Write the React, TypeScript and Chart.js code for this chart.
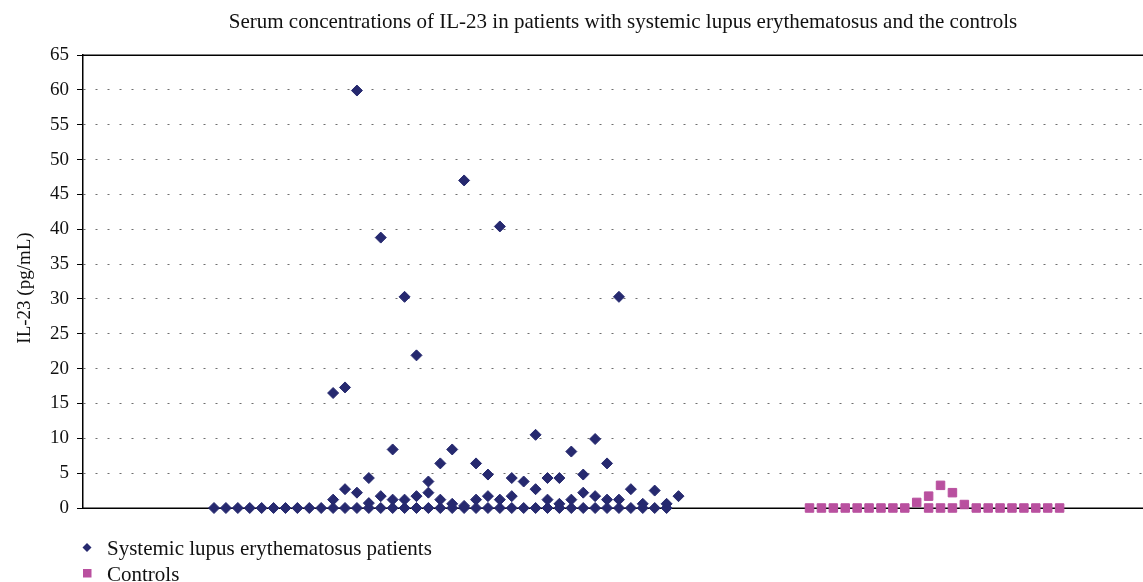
import React, { useEffect, useRef } from 'react';
import { Chart, registerables } from 'chart.js';

Chart.register(...registerables);

const TITLE = 'Serum concentrations of IL-23 in patients with systemic lupus erythematosus and the controls';
const Y_TITLE = 'IL-23 (pg/mL)';
const SERIES_NAMES = ['Systemic lupus erythematosus patients', 'Controls'];

// SLE patients: sample position (x) and IL-23 value (y)
const sleX = [
  11, 12, 13, 14, 15, 16, 17, 18, 19, 20,
  21, 21, 21,
  22, 22, 22,
  23, 23, 23,
  24, 24, 24,
  25, 25, 25,
  26, 26, 26,
  27, 27, 27,
  28, 28, 28,
  29, 29, 29,
  30, 30, 30,
  31, 31, 31,
  32, 32, 32,
  33, 33, 33,
  34, 34, 34,
  35, 35, 35,
  36, 36, 36,
  37, 37,
  38, 38, 38,
  39, 39, 39,
  40, 40, 40,
  41, 41, 41,
  42, 42, 42,
  43, 43, 43,
  44, 44, 44,
  45, 45, 45,
  46, 46,
  47, 47,
  48, 48,
  49, 49,
  50,
];
const sleY = [
  0, 0, 0, 0, 0, 0, 0, 0, 0, 0,
  0, 1.2, 16.5,
  0, 2.7, 17.3,
  0, 2.2, 59.9,
  0, 0.7, 4.3,
  0, 1.7, 38.8,
  0, 1.2, 8.4,
  0, 1.2, 30.3,
  0, 1.7, 21.9,
  0, 2.2, 3.8,
  0, 1.2, 6.4,
  0, 0.6, 8.4,
  0, 0.3, 47.0,
  0, 1.2, 6.4,
  0, 1.7, 4.8,
  0, 1.2, 40.4,
  0, 1.7, 4.3,
  0, 3.8,
  0, 2.7, 10.5,
  0, 1.2, 4.3,
  0, 0.6, 4.3,
  0, 1.2, 8.1,
  0, 2.2, 4.8,
  0, 1.7, 9.9,
  0, 1.2, 6.4,
  0, 1.2, 30.3,
  0, 2.7,
  0, 0.6,
  0, 2.5,
  0, 0.6,
  1.7,
];

// Controls
const ctrlX = [
  61, 62, 63, 64, 65, 66, 67, 68, 69,
  70,
  71, 71,
  72, 72,
  73, 73,
  74,
  75, 76, 77, 78, 79, 80, 81, 82,
];
const ctrlY = [
  0, 0, 0, 0, 0, 0, 0, 0, 0,
  0.8,
  0, 1.7,
  0, 3.25,
  0, 2.2,
  0.5,
  0, 0, 0, 0, 0, 0, 0, 0,
];

const Y_MIN = 0;
const Y_MAX = 65;
const Y_STEP = 5;
const X_MIN = 0;
const X_MAX = 89;

const NAVY = '#26296F';
const PINK = '#B9509F';
const SERIF = "'Liberation Serif', 'Times New Roman', serif";

const decorPlugin = {
  id: 'decor',
  beforeDatasetsDraw(chart: any) {
    const { ctx, chartArea, scales } = chart;
    const y = scales.y;
    ctx.save();
    ctx.strokeStyle = '#000';
    ctx.lineWidth = 1.5;
    ctx.setLineDash([]);
    [Y_MIN, Y_MAX].forEach((v) => {
      const py = Math.round(y.getPixelForValue(v)) + 0.25;
      ctx.beginPath();
      ctx.moveTo(chartArea.left, py);
      ctx.lineTo(chartArea.right, py);
      ctx.stroke();
    });
    ctx.restore();
  },
  afterDraw(chart: any) {
    const { ctx } = chart;
    ctx.save();
    // title
    ctx.fillStyle = '#111';
    ctx.font = `21px ${SERIF}`;
    ctx.textAlign = 'center';
    ctx.textBaseline = 'middle';
    ctx.fillText(TITLE, 623, 22);
    // y-axis title
    ctx.save();
    ctx.translate(25, 288);
    ctx.rotate(-Math.PI / 2);
    ctx.font = `19px ${SERIF}`;
    ctx.fillText(Y_TITLE, 0, 0);
    ctx.restore();
    // legend
    ctx.textAlign = 'left';
    ctx.textBaseline = 'alphabetic';
    ctx.font = `21px ${SERIF}`;
    const rows = [555, 581];
    ctx.fillStyle = NAVY;
    ctx.beginPath();
    ctx.moveTo(87, 543);
    ctx.lineTo(91.5, 547.5);
    ctx.lineTo(87, 552);
    ctx.lineTo(82.5, 547.5);
    ctx.closePath();
    ctx.fill();
    ctx.fillStyle = PINK;
    ctx.fillRect(83, 569, 8.5, 8.5);
    ctx.fillStyle = '#111';
    ctx.fillText(SERIES_NAMES[0], 107, rows[0]);
    ctx.fillText(SERIES_NAMES[1], 107, rows[1]);
    ctx.restore();
  },
};

export default function App() {
  const canvasRef = useRef<HTMLCanvasElement | null>(null);

  useEffect(() => {
    const canvas = canvasRef.current;
    if (!canvas) return;
    const sleData = sleX.map((x, i) => ({ x, y: sleY[i] }));
    const ctrlData = ctrlX.map((x, i) => ({ x, y: ctrlY[i] }));
    const chart = new Chart(canvas, {
      type: 'scatter',
      data: {
        datasets: [
          {
            label: SERIES_NAMES[0],
            data: sleData,
            pointStyle: 'rectRot',
            pointRadius: 5.5,
            pointBorderWidth: 1,
            backgroundColor: NAVY,
            borderColor: NAVY,
            clip: false,
          },
          {
            label: SERIES_NAMES[1],
            data: ctrlData,
            pointStyle: 'rect',
            pointRadius: 6,
            pointBorderWidth: 1,
            backgroundColor: PINK,
            borderColor: PINK,
            clip: false,
          },
        ],
      },
      options: {
        animation: false,
        responsive: false,
        maintainAspectRatio: false,
        layout: { autoPadding: false, padding: { top: 55, bottom: 74, left: 0, right: 0 } },
        plugins: {
          legend: { display: false },
          title: { display: false },
          tooltip: { enabled: false },
        },
        scales: {
          x: {
            type: 'linear',
            min: X_MIN,
            max: X_MAX,
            display: false,
          },
          y: {
            type: 'linear',
            min: Y_MIN,
            max: Y_MAX,
            afterFit: (scale: any) => {
              scale.width = 83;
            },
            ticks: {
              stepSize: Y_STEP,
              color: '#111',
              padding: 8,
              font: { family: SERIF, size: 19 },
            },
            grid: {
              color: '#6e6e6e',
              lineWidth: 1,
              tickColor: '#000',
              tickLength: 6,
              tickWidth: 1,
            },
            border: {
              display: true,
              color: '#000',
              width: 1.5,
              dash: [2, 10],
            },
            title: { display: false },
          },
        },
      },
      plugins: [decorPlugin],
    });
    return () => chart.destroy();
  }, []);

  return (
    <div style={{ position: 'fixed', left: 0, top: 0, width: 1143, height: 582, background: '#fff' }}>
      <canvas ref={canvasRef} width={1143} height={582} style={{ display: 'block' }} />
    </div>
  );
}
